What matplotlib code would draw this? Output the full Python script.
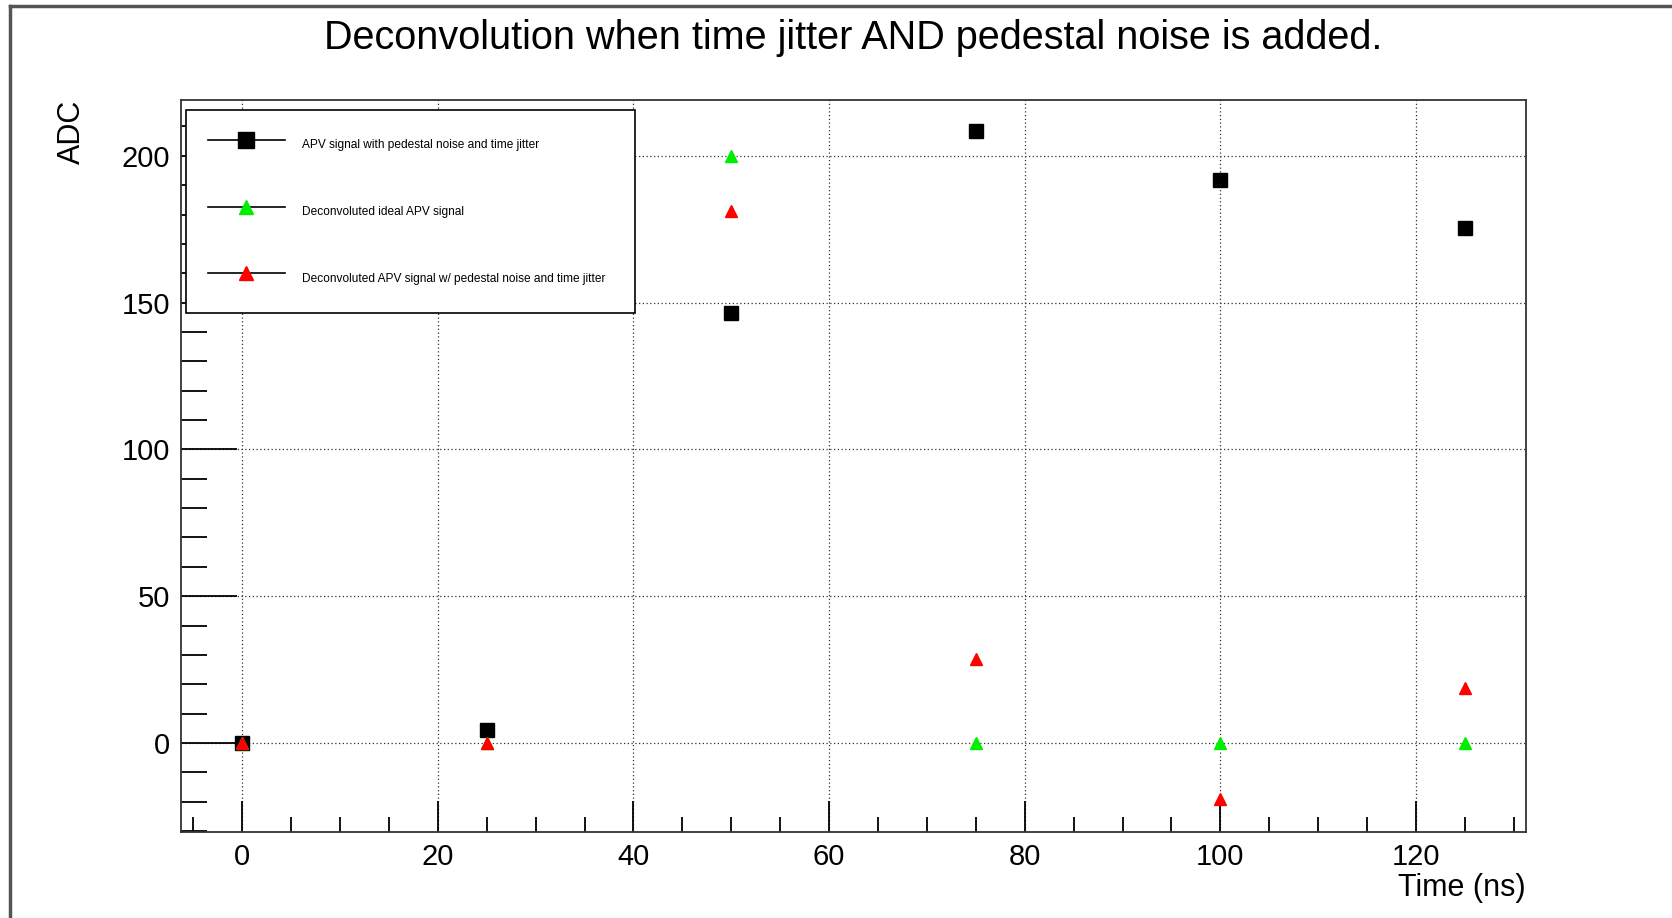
import matplotlib.pyplot as plt
from matplotlib.lines import Line2D
from matplotlib.ticker import MultipleLocator

plt.rcParams['font.family'] = ['Liberation Sans', 'DejaVu Sans']

# data
time_ns = [0, 25, 50, 75, 100, 125]
apv_noise_jitter = [0, 4.4, 146.3, 208.3, 191.6, 175.3]
deconv_ideal = [0, 0, 200, 0, 0, 0]
deconv_noise_jitter = [0, 0, 181.1, 28.7, -19.2, 18.9]

labels = ['APV signal with pedestal noise and time jitter',
          'Deconvoluted ideal APV signal',
          'Deconvoluted APV signal w/ pedestal noise and time jitter']
title = 'Deconvolution when time jitter AND pedestal noise is added.'

W, H = 1672, 918
fig = plt.figure(figsize=(W / 100, H / 100), dpi=100)
ax = fig.add_axes([181 / W, 1 - 832 / H, (1526 - 181) / W, (832 - 100) / H])

ax.plot(time_ns, apv_noise_jitter, ls='none', marker='s', ms=10, color='black', zorder=3)
ax.plot(time_ns, deconv_ideal, ls='none', marker='^', ms=9, color='#00ee00', zorder=4)
ax.plot(time_ns, deconv_noise_jitter, ls='none', marker='^', ms=9, color='red', zorder=5)

ax.set_xlim(-6.25, 131.25)
ax.set_ylim(-30.3, 219)
ax.xaxis.set_major_locator(MultipleLocator(20))
ax.xaxis.set_minor_locator(MultipleLocator(5))
ax.yaxis.set_major_locator(MultipleLocator(50))
ax.yaxis.set_minor_locator(MultipleLocator(10))
ax.tick_params(which='both', direction='in', top=False, right=False, width=1.3,
               labelsize=21, pad=8)
ax.tick_params(axis='y', which='major', length=40)
ax.tick_params(axis='y', which='minor', length=19)
ax.tick_params(axis='x', which='major', length=22)
ax.tick_params(axis='x', which='minor', length=11)
ax.grid(True, which='major', ls=(0, (1, 2)), color='#333333', lw=0.9)
for s in ax.spines.values():
    s.set_linewidth(1.3)
    s.set_color('#333333')

fig.text(853 / W, 1 - 38 / H, title, ha='center', va='center', fontsize=28.5)
fig.text(1526 / W, 1 - 888 / H, 'Time (ns)', ha='right', va='center', fontsize=22)
fig.text(72 / W, 1 - 100 / H, 'ADC', ha='center', va='top', rotation=90, fontsize=22)

handles = [
    Line2D([], [], color='black', lw=1.2, marker='s', ms=11, mfc='black', mec='black'),
    Line2D([], [], color='black', lw=1.2, marker='^', ms=10, mfc='#00ee00', mec='#00ee00'),
    Line2D([], [], color='black', lw=1.2, marker='^', ms=10, mfc='red', mec='red'),
]
leg = ax.legend(handles, labels, loc='upper left', mode='expand',
                bbox_to_anchor=(186 / W, 1 - 310 / H, (635 - 186) / W, 200 / H),
                bbox_transform=fig.transFigure, borderaxespad=0, fontsize=8.6,
                handlelength=6.5, handleheight=3.0, handletextpad=1.4,
                labelspacing=3.4, borderpad=1.8, fancybox=False, framealpha=1,
                edgecolor='black')
leg.get_frame().set_linewidth(1.2)

# outer frame (screenshot of canvas edge)
fig.add_artist(Line2D([10 / W, 10 / W], [0, 1 - 6 / H], transform=fig.transFigure,
                      color='#555555', lw=2.5))
fig.add_artist(Line2D([10 / W, 1], [1 - 6 / H, 1 - 6 / H], transform=fig.transFigure,
                      color='#555555', lw=2.5))

fig.savefig('out.png', dpi=100)
